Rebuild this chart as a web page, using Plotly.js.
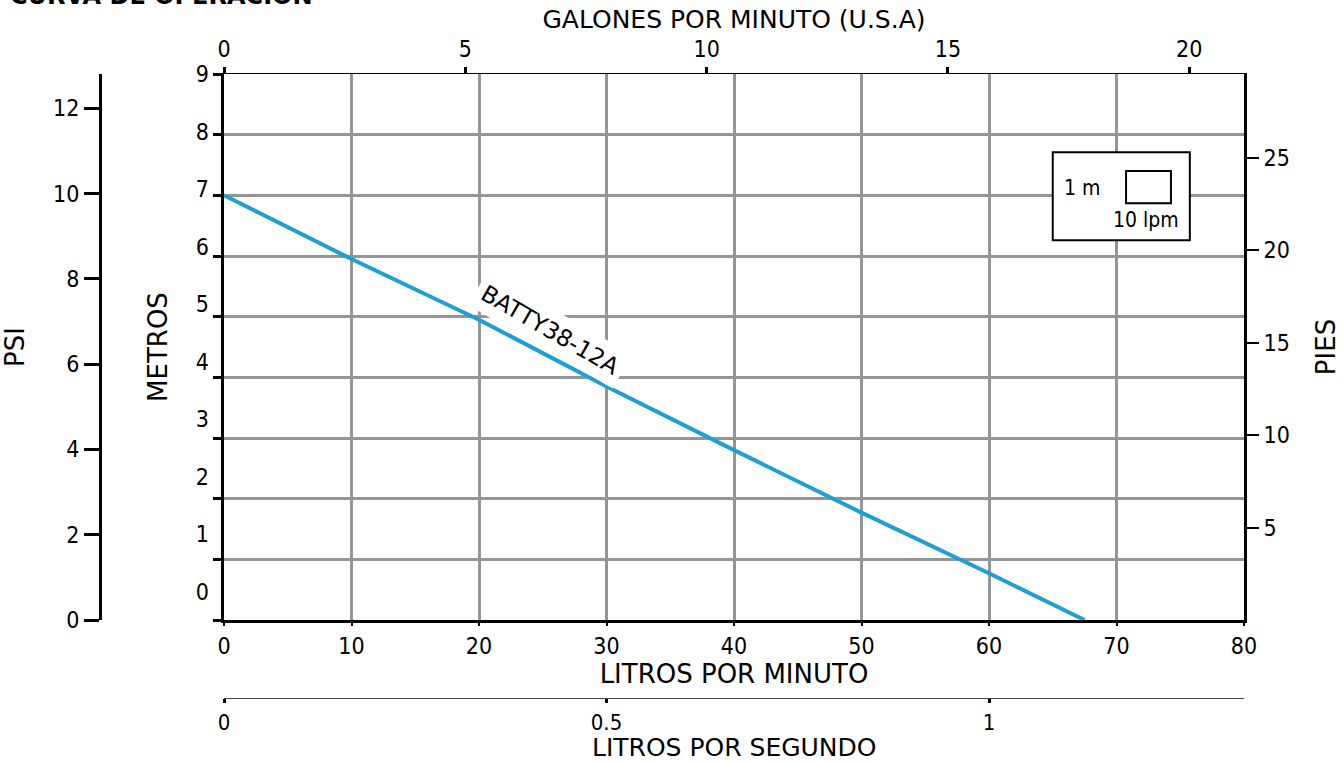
<!DOCTYPE html>
<html>
<head>
<meta charset="utf-8">
<script src="https://cdn.plot.ly/plotly-3.0.1.min.js"></script>
<style>html,body{margin:0;padding:0;background:#fff;}#chart{width:1344px;height:763px;}</style>
</head>
<body>
<div id="chart"></div>
<script>
// ---- data ----
const lpm = [0, 10, 20, 30, 40, 50, 60, 67.5];
const metros = [7.0, 5.95, 4.95, 3.85, 2.8, 1.77, 0.77, 0];
const seriesName = "BATTY38-12A";
const chartTitle = "CURVA DE OPERACIÓN";
const LPM_PER_GPM = 3.78541;
const PSI_PER_M = 1.42233;
const FT_PER_M = 3.28084;
const xMax = 80, yMax = 9;

const tickFont = {family: "Liberation Sans Narrow, DejaVu Sans Condensed, sans-serif", size: 23, color: '#000'};
const titleFam = "DejaVu Sans, sans-serif";
const titleFont = {family: titleFam, size: 26, color: '#000'};
const grid = '#939598';
const dom = [0.125, 1];
const xdom = [(224-100)/1144, 1];

const trace = {
  x: lpm, y: metros, type: 'scatter', mode: 'lines',
  line: {color: '#1F9FD5', width: 4}, name: seriesName, hoverinfo: 'skip', showlegend: false
};
// empty helper traces so that every secondary axis is created and drawn
const helpers = [
  {x: [], y: [], xaxis: 'x2', yaxis: 'y2', type: 'scatter', mode: 'lines', showlegend: false},
  {x: [], y: [], xaxis: 'x3', yaxis: 'y3', type: 'scatter', mode: 'lines', showlegend: false},
  {x: [], y: [], xaxis: 'x', yaxis: 'y4', type: 'scatter', mode: 'lines', showlegend: false}
];

const layout = {
  width: 1344, height: 763,
  margin: {l: 100, r: 100, t: 74, b: 65},
  paper_bgcolor: '#fff', plot_bgcolor: '#fff',
  showlegend: false,
  xaxis: {
    domain: xdom, range: [0, xMax], dtick: 10, anchor: 'y',
    showgrid: true, gridcolor: grid, gridwidth: 3, zeroline: false,
    showline: true, linecolor: '#000', linewidth: 3,
    ticks: 'outside', ticklen: 3, tickwidth: 2, tickcolor: '#000',
    tickfont: tickFont,
    title: {text: 'LITROS POR MINUTO', font: titleFont, standoff: 0}
  },
  xaxis2: {
    domain: xdom, overlaying: 'x', side: 'top', anchor: 'y',
    range: [0, xMax / LPM_PER_GPM], dtick: 5,
    showgrid: false, zeroline: false,
    showline: true, linecolor: '#000', linewidth: 1.5,
    ticks: 'outside', ticklen: 6, tickwidth: 3, tickcolor: '#000',
    tickfont: tickFont,
    title: {text: 'GALONES POR MINUTO (U.S.A)', font: {family: titleFam, size: 25, color: '#000'}, standoff: 0}
  },
  xaxis3: {
    domain: xdom, overlaying: 'x', anchor: 'free', position: 0, side: 'bottom',
    range: [0, xMax / 60], dtick: 0.5,
    showgrid: false, zeroline: false,
    showline: true, linecolor: '#444', linewidth: 1.2,
    ticks: 'outside', ticklen: 4, tickwidth: 3, tickcolor: '#000',
    tickfont: {family: tickFont.family, size: 22, color: '#000'}
  },
  yaxis: {
    domain: dom, range: [0, yMax], dtick: 1, anchor: 'x',
    showgrid: true, gridcolor: grid, gridwidth: 3, zeroline: false,
    showline: true, linecolor: '#000', linewidth: 3,
    ticks: 'outside', ticklen: 8, tickwidth: 3, tickcolor: '#000',
    showticklabels: false
  },
  yaxis2: {
    domain: dom, overlaying: 'y', side: 'left', anchor: 'x2',
    range: [-0.49, 9.002], dtick: 1,
    showgrid: false, zeroline: false, showline: false, ticks: '',
    tickfont: tickFont, ticklabelstandoff: 14,
    title: {text: 'METROS', font: titleFont, standoff: 20}
  },
  yaxis3: {
    domain: dom, overlaying: 'y', side: 'left', anchor: 'free', position: 0,
    range: [0, yMax * PSI_PER_M], dtick: 2,
    showgrid: false, zeroline: false,
    showline: true, linecolor: '#000', linewidth: 3,
    ticks: 'outside', ticklen: 15, tickwidth: 3, tickcolor: '#000',
    tickfont: tickFont,
    title: {text: 'PSI', font: titleFont, standoff: 22}
  },
  yaxis4: {
    domain: dom, overlaying: 'y', side: 'right', anchor: 'x',
    range: [0, yMax * FT_PER_M], tickvals: [5, 10, 15, 20, 25],
    showgrid: false, zeroline: false,
    showline: true, linecolor: '#000', linewidth: 3,
    ticks: 'outside', ticklen: 12, tickwidth: 2, tickcolor: '#000',
    tickfont: tickFont,
    title: {text: 'PIES', font: titleFont, standoff: 28}
  },
  shapes: [
    {type: 'rect', xref: 'x', yref: 'y', x0: 65.0, x1: 75.75, y0: 6.26, y1: 7.71,
     line: {color: '#000', width: 2}, fillcolor: '#fff', layer: 'above'},
    {type: 'rect', xref: 'x', yref: 'y', x0: 70.75, x1: 74.27, y0: 6.87, y1: 7.40,
     line: {color: '#000', width: 2}, fillcolor: '#fff', layer: 'above'}
  ],
  annotations: [
    {text: chartTitle, xref: 'paper', yref: 'paper', x: (8-100)/1144, y: 1 + 79/624,
     xanchor: 'left', yanchor: 'middle', showarrow: false,
     font: {family: "DejaVu Sans, sans-serif", size: 24, color: '#000', weight: 'bold'}},
    {text: 'LITROS POR SEGUNDO', xref: 'paper', yref: 'paper', x: (734-100)/1144, y: (698-747)/624,
     xanchor: 'center', yanchor: 'middle', showarrow: false, font: {family: titleFam, size: 25, color: '#000'}},
    {text: seriesName, xref: 'x', yref: 'y', x: 25.6, y: 4.78, textangle: 30,
     showarrow: false, bgcolor: '#fff', borderpad: 6, font: {family: titleFam, size: 23, color: '#000'}},
    {text: '1 m', xref: 'x', yref: 'y', x: 67.3, y: 7.12, showarrow: false, font: {family: tickFont.family, size: 21, color: '#000'}},
    {text: '10 lpm', xref: 'x', yref: 'y', x: 72.3, y: 6.59, showarrow: false, font: {family: tickFont.family, size: 21, color: '#000'}}
  ]
};

Plotly.newPlot('chart', [trace].concat(helpers), layout, {displayModeBar: false, staticPlot: true});
</script>
</body>
</html>
